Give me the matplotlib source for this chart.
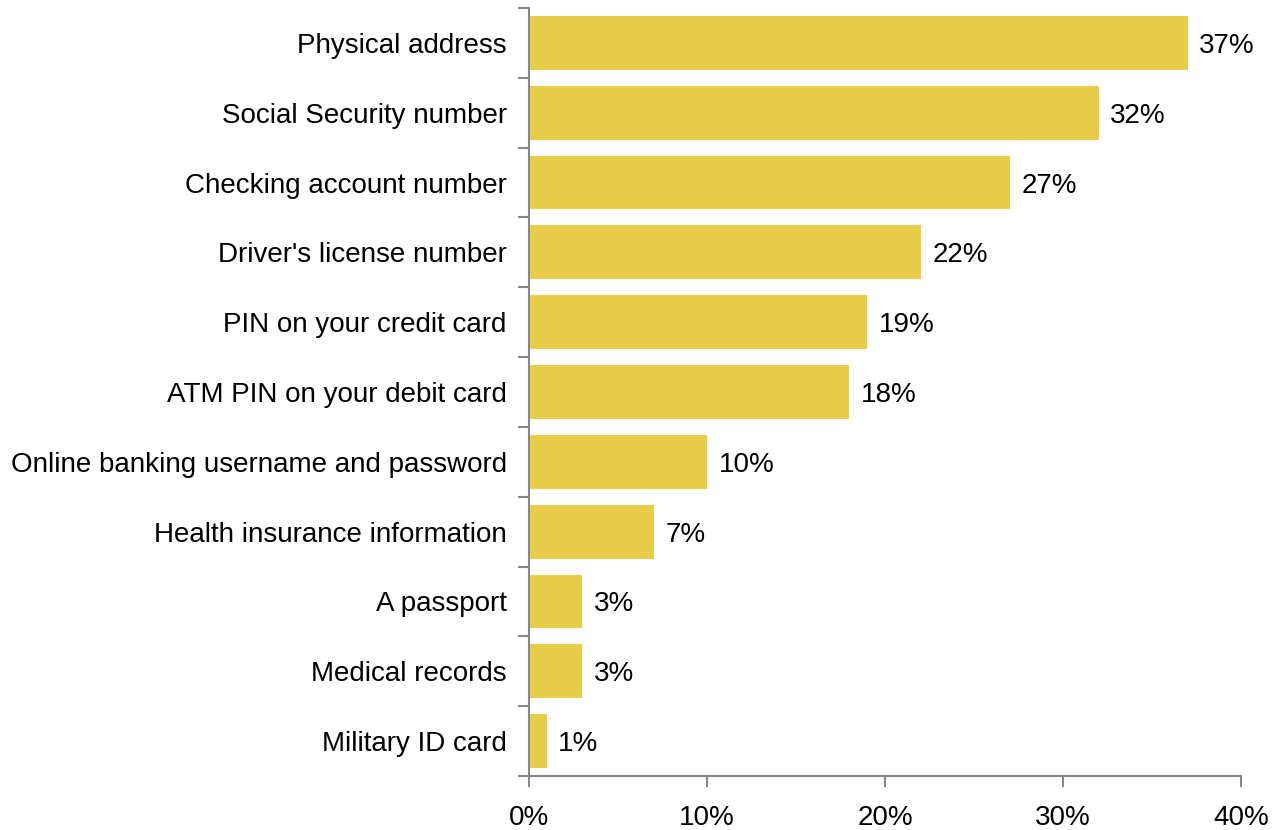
import matplotlib
matplotlib.use("Agg")
import matplotlib.pyplot as plt
from matplotlib.ticker import FixedLocator, PercentFormatter

categories = [
    "Physical address",
    "Social Security number",
    "Checking account number",
    "Driver's license number",
    "PIN on your credit card",
    "ATM PIN on your debit card",
    "Online banking username and password",
    "Health insurance information",
    "A passport",
    "Medical records",
    "Military ID card",
]
values = [37, 32, 27, 22, 19, 18, 10, 7, 3, 3, 1]
x_ticks = [0, 10, 20, 30, 40]

BAR_COLOR = "#E8CD4C"
AXIS_COLOR = "#888888"

plt.rcParams["font.family"] = ["Liberation Sans", "DejaVu Sans"]

fig = plt.figure(figsize=(12.74, 8.30), dpi=100)
ax = fig.add_axes([529 / 1274, 1 - 776 / 830, (1241 - 529) / 1274, (776 - 8) / 830])

n = len(categories)
ypos = list(range(n))[::-1]
ax.barh(ypos, values, height=0.77, color=BAR_COLOR, zorder=2)

for y, v in zip(ypos, values):
    ax.text(v + 0.65, y, f"{v}%", va="center_baseline", ha="left", fontsize=20)

ax.set_xlim(0, 40)
ax.set_ylim(-0.5, n - 0.5)

ax.set_yticks(ypos)
ax.set_yticklabels(categories, fontsize=20)
ax.yaxis.set_minor_locator(FixedLocator([i - 0.5 for i in range(n + 1)]))
ax.tick_params(axis="y", which="major", length=0, pad=16)
ax.tick_params(axis="y", which="minor", length=8, width=1.5, color=AXIS_COLOR)

ax.set_xticks(x_ticks)
ax.xaxis.set_major_formatter(PercentFormatter(decimals=0))
ax.tick_params(axis="x", length=8, width=1.5, color=AXIS_COLOR, labelsize=20, pad=13)

for side in ["top", "right"]:
    ax.spines[side].set_visible(False)
for side in ["left", "bottom"]:
    ax.spines[side].set_color(AXIS_COLOR)
    ax.spines[side].set_linewidth(1.5)

fig.savefig("out.png", dpi=100)
plt.close(fig)
